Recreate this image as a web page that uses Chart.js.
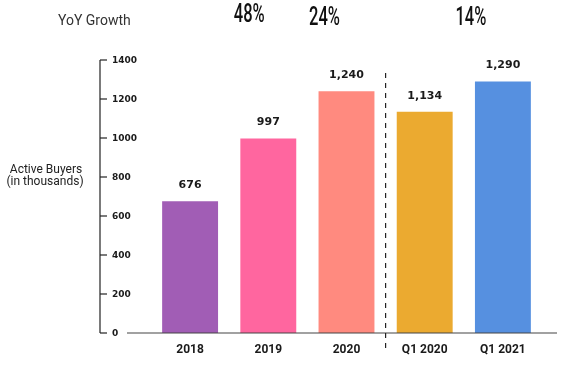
<!DOCTYPE html>
<html>
<head>
<meta charset="utf-8">
<script src="https://cdn.jsdelivr.net/npm/chart.js@4"></script>
<style>
html,body{margin:0;padding:0;background:#fff;}
#wrap{position:relative;width:562px;height:365px;}
canvas{display:block;}
</style>
</head>
<body>
<div id="wrap"><canvas id="c" width="562" height="365"></canvas></div>
<script>
const categories = ["2018", "2019", "2020", "Q1 2020", "Q1 2021"];
const buyers = [676, 997, 1240, 1134, 1290];
const valueLabels = ["676", "997", "1,240", "1,134", "1,290"];
const barColors = ["#A15DB5", "#FF669F", "#FF8A7F", "#EBAA30", "#5690E0"];
const yoyLabels = ["", "48%", "24%", "", "14%"];
const yTicks = [0, 200, 400, 600, 800, 1000, 1200, 1400];
const yAxisTitle = ["Active Buyers", "(in thousands)"];
const yoyTitle = "YoY Growth";

const yoyDx = [0, -19, -22, 0, -32];
const yoyY = [0, 16, 19, 0, 19];

const decor = {
  id: "decor",
  afterDatasetsDraw(chart) {
    const ctx = chart.ctx;
    const y = chart.scales.y;
    const x = chart.scales.x;
    const axisX = 100;
    ctx.save();
    ctx.strokeStyle = "#222";
    ctx.lineWidth = 1.2;
    const yTop = y.getPixelForValue(yTicks[yTicks.length - 1]);
    const yBot = y.getPixelForValue(0);
    ctx.beginPath();
    ctx.moveTo(axisX, yTop);
    ctx.lineTo(axisX, yBot);
    ctx.stroke();
    ctx.fillStyle = "#1a1a1a";
    ctx.font = "bold 9px 'DejaVu Sans', sans-serif";
    ctx.textAlign = "left";
    ctx.textBaseline = "middle";
    yTicks.forEach(v => {
      const py = y.getPixelForValue(v);
      ctx.beginPath();
      ctx.moveTo(axisX, py);
      ctx.lineTo(axisX + 7, py);
      ctx.stroke();
      ctx.fillText(String(v), axisX + 12, py + 0.5);
    });
    ctx.strokeStyle = "#444";
    ctx.beginPath();
    ctx.moveTo(127, yBot);
    ctx.lineTo(557, yBot);
    ctx.stroke();
    const sepX = (x.getPixelForValue(2) + x.getPixelForValue(3)) / 2;
    ctx.strokeStyle = "#222";
    ctx.setLineDash([5, 5]);
    ctx.beginPath();
    ctx.moveTo(sepX, 73);
    ctx.lineTo(sepX, yBot + 16);
    ctx.stroke();
    ctx.setLineDash([]);
    ctx.fillStyle = "#1a1a1a";
    ctx.font = "bold 12px Roboto, sans-serif";
    ctx.textAlign = "center";
    categories.forEach((c, i) => {
      ctx.fillText(c, x.getPixelForValue(i), yBot + 17);
    });
    ctx.font = "bold 11px 'DejaVu Sans', sans-serif";
    buyers.forEach((v, i) => {
      ctx.fillText(valueLabels[i], x.getPixelForValue(i), y.getPixelForValue(v) - 16);
    });
    ctx.font = "12px Roboto, sans-serif";
    ctx.fillStyle = "#222";
    ctx.fillText(yAxisTitle[0], 46, 170);
    ctx.fillText(yAxisTitle[1], 45, 181.5);
    ctx.font = "14px Roboto, sans-serif";
    ctx.textAlign = "left";
    ctx.fillStyle = "#333";
    ctx.fillText(yoyTitle, 58, 21);
    ctx.font = "500 25px Roboto, sans-serif";
    ctx.fillStyle = "#111";
    ctx.textAlign = "center";
    yoyLabels.forEach((t, i) => {
      if (!t) return;
      ctx.save();
      ctx.translate(x.getPixelForValue(i) + yoyDx[i], yoyY[i]);
      ctx.scale(0.66, 1);
      ctx.fillText(t, 0, 0);
      ctx.restore();
    });
    ctx.restore();
  }
};

new Chart(document.getElementById("c"), {
  type: "bar",
  data: {
    labels: categories,
    datasets: [{
      data: buyers,
      backgroundColor: barColors,
      borderWidth: 0,
      barPercentage: 0.715,
      categoryPercentage: 1
    }]
  },
  options: {
    responsive: false,
    animation: false,
    devicePixelRatio: 1,
    layout: { padding: { left: 151, right: 20, top: 60, bottom: 32 } },
    plugins: { legend: { display: false }, tooltip: { enabled: false } },
    scales: {
      x: { display: false, offset: true },
      y: { display: false, min: 0, max: 1400 }
    }
  },
  plugins: [decor]
});
</script>
</body>
</html>
